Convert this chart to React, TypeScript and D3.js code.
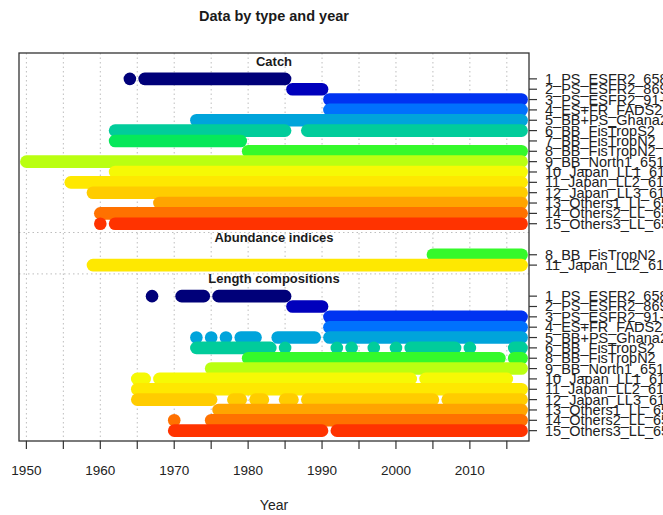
import React from "react";
import * as d3 from "d3";

const W = 663;
const H = 515;

const fleetNames = [
  "1_PS_ESFR2_6585",
  "2_PS_ESFR2_8690",
  "3_PS_ESFR2_91+",
  "4_ES+FR_FADS2",
  "5_BB+PS_Ghana2",
  "6_BB_FisTropS2",
  "7_BB_FisTropN2_6279",
  "8_BB_FisTropN2",
  "9_BB_North1_6517",
  "10_Japan_LL1_6117",
  "11_Japan_LL2_6117",
  "12_Japan_LL3_6117",
  "13_Others1_LL_6517",
  "14_Others2_LL_6517",
  "15_Others3_LL_6517",
];

// rich.colors.short(16)[-1]
const fleetColors = [
  "#000079", "#0000BC", "#0033F1", "#0071FD", "#00A4DB",
  "#01CC9B", "#06E85A", "#35F92B", "#BAFF11", "#F6F905",
  "#FEE801", "#FFCC00", "#FFA400", "#FF7100", "#FF3300",
];

const typeNames = ["Catch", "Abundance indices", "Length compositions"];

// year spans [start, end] per fleet
const catchFleets = [1, 2, 3, 4, 5, 6, 7, 8, 9, 10, 11, 12, 13, 14, 15];
const catchSpans: number[][][] = [
  [[1964, 1964], [1966, 1985]],
  [[1986, 1990]],
  [[1991, 2017]],
  [[1991, 2017]],
  [[1973, 2017]],
  [[1962, 1985], [1988, 2017]],
  [[1962, 1979]],
  [[1980, 2017]],
  [[1950, 2017]],
  [[1962, 2017]],
  [[1956, 2017]],
  [[1959, 2017]],
  [[1968, 2017]],
  [[1960, 2017]],
  [[1960, 1960], [1962, 2017]],
];

const abundanceFleets = [8, 11];
const abundanceSpans: number[][][] = [
  [[2005, 2017]],
  [[1959, 2017]],
];

const lengthFleets = [1, 2, 3, 4, 5, 6, 8, 9, 10, 11, 12, 13, 14, 15];
const lengthSpans: number[][][] = [
  [[1967, 1967], [1971, 1974], [1976, 1985]],
  [[1986, 1990]],
  [[1991, 2017]],
  [[1991, 2017]],
  [[1973, 1973], [1975, 1975], [1977, 1977], [1979, 1981], [1984, 1989], [1991, 2017]],
  [[1973, 1983], [1985, 1985], [1992, 1992], [1994, 1994], [1997, 1997], [2000, 2000], [2002, 2008], [2010, 2010], [2016, 2017]],
  [[1980, 2014], [2016, 2017]],
  [[1975, 2017]],
  [[1965, 1966], [1968, 2002], [2004, 2015]],
  [[1965, 2017]],
  [[1965, 1975], [1978, 1979], [1981, 1982], [1985, 1986], [1988, 2005], [2007, 2017]],
  [[1976, 2017]],
  [[1970, 1970], [1975, 2017]],
  [[1970, 1990], [1992, 2017]],
];

const xTicks = [1950, 1955, 1960, 1965, 1970, 1975, 1980, 1985, 1990, 1995, 2000, 2005, 2010, 2015];
const xTickLabels = [1950, 1960, 1970, 1980, 1990, 2000, 2010];

const xLim = [1949, 2018];
const yLim = [0, 37.5];

const FONT = "'Liberation Sans', Arial, Helvetica, sans-serif";

export default function App() {
  const left = 19, right = 529, top = 53, bottom = 441;
  const x = d3.scaleLinear().domain(xLim).range([left, right]);
  const y = d3.scaleLinear().domain(yLim).range([bottom, top]);

  const types = [
    { name: typeNames[0], fleets: catchFleets, spans: catchSpans },
    { name: typeNames[1], fleets: abundanceFleets, spans: abundanceSpans },
    { name: typeNames[2], fleets: lengthFleets, spans: lengthSpans },
  ];

  // assign y values from bottom type upward
  const layout: { name: string; rows: { fleet: number; spans: number[][]; yv: number }[]; titleY: number; gridY: number | null }[] = [];
  let yval = 0;
  const rev = [...types].reverse();
  rev.forEach((t, ti) => {
    const rows: { fleet: number; spans: number[][]; yv: number }[] = [];
    for (let i = t.fleets.length - 1; i >= 0; i--) {
      yval += 1;
      rows.push({ fleet: t.fleets[i], spans: t.spans[i], yv: yval });
    }
    const titleY = yval + 1.7;
    const gridY = ti < rev.length - 1 ? yval + 2.15 : null;
    layout.push({ name: t.name, rows: rows.reverse(), titleY, gridY });
    yval += 2;
  });

  const R = 6.3;
  const marks: React.ReactNode[] = [];
  layout.forEach((t, ti) => {
    t.rows.forEach((r, ri) => {
      const col = fleetColors[r.fleet - 1];
      r.spans.forEach((s, si) => {
        const key = `${ti}-${ri}-${si}`;
        if (s[0] === s[1]) {
          marks.push(<circle key={key} cx={x(s[0])} cy={y(r.yv)} r={R} fill={col} />);
        } else {
          marks.push(
            <line key={key} x1={x(s[0])} x2={x(s[1])} y1={y(r.yv)} y2={y(r.yv)}
              stroke={col} strokeWidth={2 * R} strokeLinecap="round" />
          );
        }
      });
    });
  });

  const midX = x((xLim[0] + xLim[1]) / 2);

  return (
    <svg width={W} height={H} style={{ position: "absolute", left: 0, top: 0, background: "#fff" }}
      fontFamily={FONT}>
      <rect x={0} y={0} width={W} height={H} fill="#fff" />
      <text x={midX} y={16} textAnchor="middle" dominantBaseline="central" fontSize={14.5} fontWeight="bold" fill="#1a1a1a">
        Data by type and year
      </text>
      {/* vertical grid */}
      {xTicks.map((t) => (
        <line key={"vg" + t} x1={x(t)} x2={x(t)} y1={top} y2={bottom} stroke="#bebebe" strokeWidth={1} strokeDasharray="1.5 3" />
      ))}
      {/* horizontal separators */}
      {layout.filter((t) => t.gridY !== null).map((t) => (
        <line key={"hg" + t.name} x1={left} x2={right} y1={y(t.gridY as number)} y2={y(t.gridY as number)} stroke="#bebebe" strokeWidth={1} strokeDasharray="1.5 3" />
      ))}
      {marks}
      {/* type titles */}
      {layout.map((t) => (
        <text key={"tt" + t.name} x={midX} y={y(t.titleY)} textAnchor="middle" dominantBaseline="central" fontSize={13} fontWeight="bold" fill="#1a1a1a">
          {t.name}
        </text>
      ))}
      {/* box */}
      <rect x={left} y={top} width={right - left} height={bottom - top} fill="none" stroke="#333" strokeWidth={1.3} />
      {/* x axis */}
      {xTicks.map((t) => (
        <line key={"xt" + t} x1={x(t)} x2={x(t)} y1={bottom} y2={bottom + 8} stroke="#333" strokeWidth={1.2} />
      ))}
      {xTickLabels.map((t) => (
        <text key={"xl" + t} x={x(t)} y={470} textAnchor="middle" dominantBaseline="central" fontSize={13.5} fill="#222">
          {t}
        </text>
      ))}
      <text x={midX} y={505} textAnchor="middle" dominantBaseline="central" fontSize={14} fill="#222">
        Year
      </text>
      {/* right axis */}
      {layout.map((t) =>
        t.rows.map((r) => (
          <g key={"ra" + t.name + r.fleet}>
            <line x1={right} x2={right + 8} y1={y(r.yv)} y2={y(r.yv)} stroke="#333" strokeWidth={1.2} />
            <text x={545} y={y(r.yv)} dominantBaseline="central" fontSize={14.5} fill="#222">
              {fleetNames[r.fleet - 1]}
            </text>
          </g>
        ))
      )}
    </svg>
  );
}
